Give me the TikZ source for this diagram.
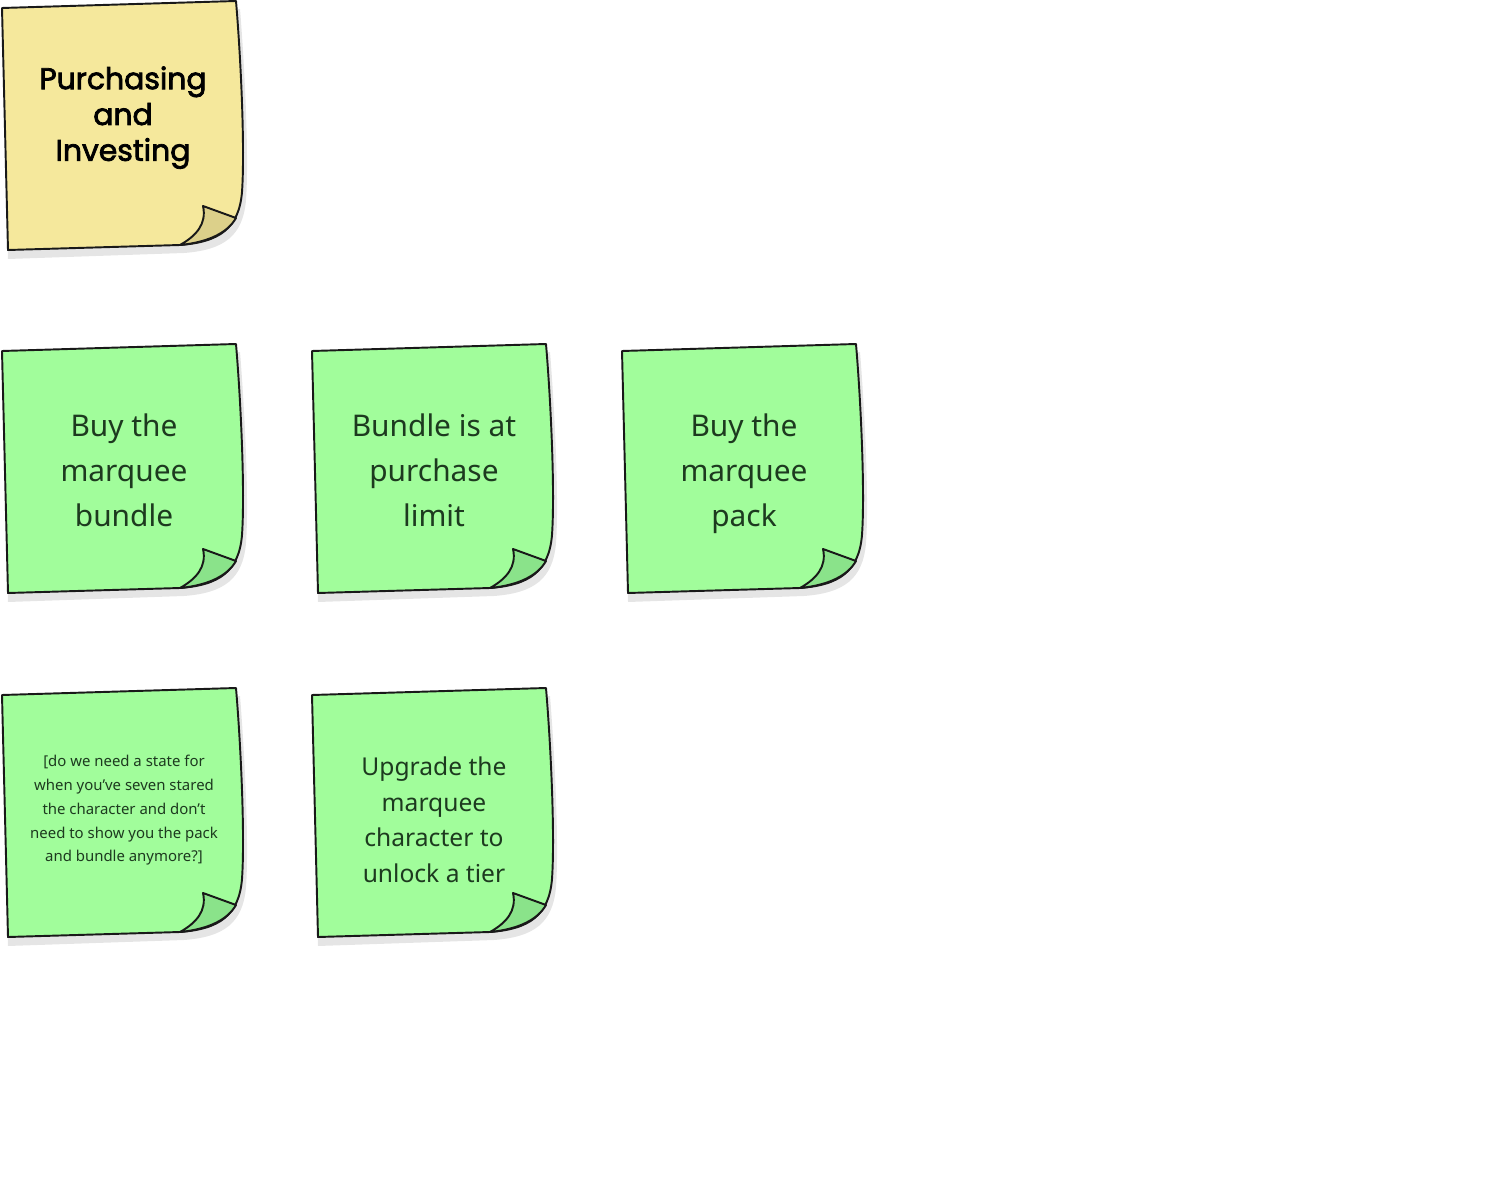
\documentclass[tikz,border=0pt]{standalone}
\usepackage{fontspec}
\setmainfont{Noto Sans}
\newfontfamily\titlefont{Poppins}[FakeBold=2.5]
\usepackage{tikz}
\usetikzlibrary{positioning}

\definecolor{stickyyellow}{HTML}{F5E89C}
\definecolor{curlyellow}{HTML}{DCD08A}
\definecolor{stickygreen}{HTML}{A1FD9B}
\definecolor{curlgreen}{HTML}{8AE38A}
\definecolor{notetext}{HTML}{1D3A1F}

\begin{document}
\begin{tikzpicture}[x=0.02cm, y=-0.02cm]
    \tikzset{notedrop/.style = {fill=black!10}}
    \tikzset{noteline/.style = {draw=black!90, line width=1.1pt, line join=round}}
    \tikzset{pics/sticky/.style 2 args = {code = {
        \fill[notedrop] (6,16) -- (240,9) .. controls (245,70) and (249,160) .. (246,200) .. controls (243,236) and (224,250) .. (184,253) -- (8,259) -- cycle;
        \filldraw[noteline, fill=#1] (2,8) -- (236,1) .. controls (241,60) and (245,150) .. (242,192) .. controls (239,228) and (220,242) .. (180,245) -- (8,250) -- cycle;
        \filldraw[noteline, fill=#2] (203,206) -- (236,218) .. controls (228,232) and (210,242) .. (180,245) .. controls (196,236) and (207,224) .. cycle;
    }}}
    \tikzset{notetextbase/.style = {align=center, execute at begin node=\strut, execute at end node=\strut}}
    \tikzset{titletext/.style = {notetextbase, text=black, font=\titlefont\fontsize{17}{20.4}\selectfont}}
    \tikzset{bigtext/.style = {notetextbase, text=notetext, font=\fontsize{17}{25.6}\selectfont}}
    \tikzset{midtext/.style = {notetextbase, text=notetext, font=\fontsize{14}{20.4}\selectfont}}
    \tikzset{smalltext/.style = {notetextbase, text=notetext, font=\fontsize{8.5}{13.6}\selectfont}}

    \useasboundingbox (0,0) rectangle (1505,1182);

    \pic at (0,0) {sticky={stickyyellow}{curlyellow}};
    \pic at (0,343) {sticky={stickygreen}{curlgreen}};
    \pic at (310,343) {sticky={stickygreen}{curlgreen}};
    \pic at (620,343) {sticky={stickygreen}{curlgreen}};
    \pic at (0,687) {sticky={stickygreen}{curlgreen}};
    \pic at (310,687) {sticky={stickygreen}{curlgreen}};

    \node[titletext] (title) at (123,119) {Purchasing\\and\\Investing};
    \node[bigtext] (bundle) at (124,477) {Buy the\\marquee\\bundle};
    \node[bigtext] (limit) at (434,477) {Bundle is at\\purchase\\limit};
    \node[bigtext] (pack) at (744,477) {Buy the\\marquee\\pack};
    \node[smalltext] (question) at (124,812) {[do we need a state for\\when you’ve seven stared\\the character and don’t\\need to show you the pack\\and bundle anymore?]};
    \node[midtext] (upgrade) at (434,825) {Upgrade the\\marquee\\character to\\unlock a tier};
\end{tikzpicture}
\end{document}
